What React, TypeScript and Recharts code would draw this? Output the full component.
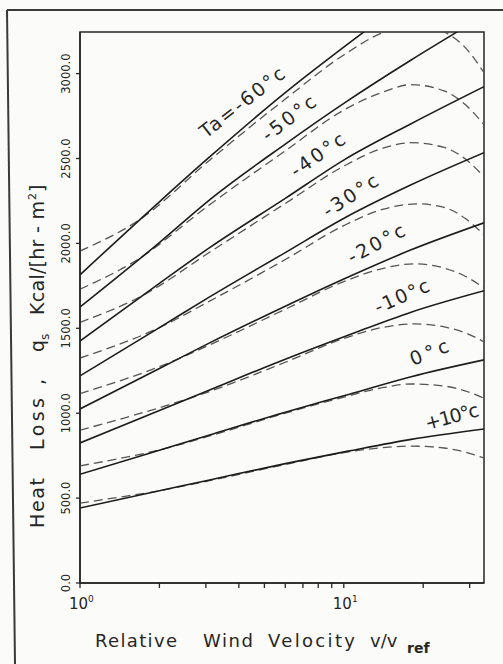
import React from 'react';
import { LineChart, Line, XAxis, YAxis, ReferenceArea } from 'recharts';

// relative wind velocity ticks (log axis) and heat loss ticks
const xTicks = [1, 2, 3, 4, 5, 6, 7, 8, 9, 10, 20, 30];
const yTicks = [0, 500, 1000, 1500, 2000, 2500, 3000];

// solid curves: [v/vref, q]
const solidM60 = [[1, 1815], [2, 2245], [3.1, 2509], [6, 2888], [12, 3249]];
const solidM50 = [[1, 1625], [2, 2005], [3.1, 2257], [6, 2585], [10.1, 2829], [18, 3080], [27, 3247]];
const solidM40 = [[1, 1425], [2, 1765], [3.1, 1975], [6, 2265], [10.1, 2495], [18, 2705], [34, 2923]];
const solidM30 = [[1, 1220], [2, 1504], [3.1, 1685], [6, 1946], [10.1, 2151], [18, 2345], [34, 2534]];
const solidM20 = [[1, 1025], [2, 1263], [3.1, 1414], [6, 1630], [10.5, 1805], [18, 1962], [34, 2121]];
const solidM10 = [[1, 825], [2, 1016], [3.1, 1137], [6, 1318], [10.5, 1462], [18, 1595], [34, 1721]];
const solid0 = [[1, 640], [2, 782], [3.1, 872], [6, 1006], [10.5, 1112], [18, 1215], [34, 1314]];
const solidP10 = [[1, 442], [2, 543], [3.1, 607], [6, 703], [10.5, 778], [18, 846], [34, 907]];

// dashed curves
const dashM60 = [[1, 1955], [1.72, 2150], [3.1, 2490], [6, 2850], [10, 3110], [14, 3240], [18.5, 3285], [24, 3245], [29, 3150], [34, 3005]];
const dashM50 = [[1, 1730], [1.65, 1904], [3.1, 2228], [6, 2545], [10, 2785], [14, 2890], [18, 2935], [24, 2898], [29, 2815], [34, 2699]];
const dashM40 = [[1, 1535], [1.76, 1700], [3.1, 1948], [6, 2235], [10, 2455], [14, 2560], [18, 2593], [24, 2565], [29, 2495], [34, 2392]];
const dashM30 = [[1, 1325], [2, 1504], [3.1, 1660], [6, 1905], [10, 2105], [14, 2200], [19, 2233], [24, 2212], [29, 2145], [34, 2050]];
const dashM20 = [[1, 1115], [2.35, 1318], [3.1, 1402], [6, 1612], [10, 1775], [14, 1852], [18.5, 1880], [24, 1855], [29, 1805], [34, 1738]];
const dashM10 = [[1, 900], [2.6, 1088], [3.1, 1128], [6, 1300], [10, 1440], [14, 1505], [18.5, 1526], [24, 1508], [29, 1472], [34, 1420]];
const dash0 = [[1, 690], [2.15, 796], [3.1, 866], [6, 1000], [10, 1095], [14, 1150], [18, 1172], [24, 1160], [29, 1130], [34, 1088]];
const dashP10 = [[1, 470], [1.5, 512], [1.9, 537], [3.1, 603], [6, 698], [10, 768], [14, 797], [18, 806], [24, 795], [29, 770], [34, 736]];

const solids = [solidM60, solidM50, solidM40, solidM30, solidM20, solidM10, solid0, solidP10];
const dashes = [dashM60, dashM50, dashM40, dashM30, dashM20, dashM10, dash0, dashP10];

// curve labels: text, baseline start (px), angle, length
const curveLabels = [
  { t: 'Ta=-60°c', x: 206, y: 139, a: -38, w: 102 },
  { t: '-50°c', x: 268, y: 142, a: -37, w: 62 },
  { t: '-40°c', x: 296, y: 178, a: -35, w: 62 },
  { t: '-30°c', x: 328, y: 218, a: -33, w: 62 },
  { t: '-20°c', x: 352, y: 264, a: -28, w: 62 },
  { t: '-10°c', x: 378, y: 314, a: -24, w: 58 },
  { t: '0°c', x: 413, y: 366, a: -22, w: 40 },
  { t: '+10°c', x: 427, y: 430, a: -15, w: 55 },
];

const toPts = (a: number[][]) => a.map(([v, q]) => ({ v, q }));

const FONT = '"DejaVu Sans", sans-serif';
const INK = '#262626';

const XTick = (props: any) => {
  const { x, payload } = props;
  if (payload.value !== 1 && payload.value !== 10) return <g />;
  const exp = payload.value === 1 ? '0' : '1';
  return (
    <text x={x - 11} y={609} fontFamily={FONT} fontSize={15} fill={INK}>
      10<tspan dy={-7} fontSize={9}>{exp}</tspan>
    </text>
  );
};

const YTick = (props: any) => {
  const { y, payload } = props;
  return (
    <text
      x={70}
      y={y}
      transform={`rotate(-90, 70, ${y})`}
      textAnchor="middle"
      fontFamily={FONT}
      fontSize={11.5}
      fill={INK}
    >
      {payload.value.toFixed(1)}
    </text>
  );
};

export default function App() {
  return (
    <div style={{ position: 'absolute', left: 0, top: 0, width: 503, height: 664, background: '#fbfbf9', overflow: 'hidden' }}>
      <svg width={503} height={664} style={{ position: 'absolute', left: 0, top: 0 }}>
        <line x1={7} y1={10} x2={503} y2={10} stroke="#3a3a3a" strokeWidth={2} />
        <line x1={7} y1={10} x2={15} y2={664} stroke="#3a3a3a" strokeWidth={2} />
      </svg>
      <div style={{ position: 'absolute', left: 0, top: 0 }}>
        <LineChart width={503} height={664} margin={{ top: 32, right: 19, bottom: 41, left: 0 }}>
          <XAxis
            type="number"
            dataKey="v"
            scale="log"
            domain={[1, 34]}
            allowDataOverflow
            ticks={xTicks}
            interval={0}
            tick={<XTick />}
            tickSize={5}
            height={40}
            axisLine={{ stroke: INK, strokeWidth: 1.5 }}
            tickLine={{ stroke: INK, strokeWidth: 1.3 }}
          />
          <YAxis
            type="number"
            dataKey="q"
            domain={[0, 3245]}
            allowDataOverflow
            ticks={yTicks}
            interval={0}
            tick={<YTick />}
            tickSize={4}
            width={80}
            axisLine={{ stroke: INK, strokeWidth: 1.5 }}
            tickLine={{ stroke: INK, strokeWidth: 1.3 }}
          />
          <ReferenceArea x1={1} x2={34} y1={0} y2={3245} fill="none" stroke={INK} strokeWidth={1.5} fillOpacity={0} />
          {dashes.map((d, i) => (
            <Line
              key={'d' + i}
              data={toPts(d)}
              dataKey="q"
              type="monotone"
              stroke="#555555"
              strokeWidth={1.3}
              strokeDasharray="9 5"
              dot={false}
              isAnimationActive={false}
            />
          ))}
          {solids.map((d, i) => (
            <Line
              key={'s' + i}
              data={toPts(d)}
              dataKey="q"
              type="monotone"
              stroke="#1c1c1c"
              strokeWidth={1.6}
              dot={false}
              isAnimationActive={false}
            />
          ))}
        </LineChart>
      </div>
      <svg width={503} height={664} style={{ position: 'absolute', left: 0, top: 0, pointerEvents: 'none' }}>
        {curveLabels.map((l) => (
          <text
            key={l.t}
            x={l.x}
            y={l.y}
            transform={`rotate(${l.a}, ${l.x}, ${l.y})`}
            fontFamily={FONT}
            fontSize={19}
            fill={INK}
            textLength={l.w}
            lengthAdjust="spacing"
          >
            {l.t}
          </text>
        ))}
        <g transform="translate(44, 528) rotate(-90)" fontFamily={FONT} fontSize={19} fill={INK}>
          <text x={0} y={0} textLength={50} lengthAdjust="spacing">Heat</text>
          <text x={78} y={0} textLength={52} lengthAdjust="spacing">Loss</text>
          <text x={143} y={0}>,</text>
          <text x={176} y={0}>
            q<tspan dy={5} fontSize={12}>s</tspan>
          </text>
          <text x={213} y={0} textLength={114} lengthAdjust="spacing">Kcal/[hr - m</text>
          <text x={328} y={-8} fontSize={11}>2</text>
          <text x={336} y={0}>]</text>
        </g>
        <g fontFamily={FONT} fontSize={18} fill={INK}>
          <text x={95} y={647} textLength={82} lengthAdjust="spacing">Relative</text>
          <text x={203} y={647} textLength={50} lengthAdjust="spacing">Wind</text>
          <text x={268} y={647} textLength={87} lengthAdjust="spacing">Velocity</text>
          <text x={370} y={647}>v/v</text>
          <text x={407} y={653} fontSize={14} fontWeight="bold">ref</text>
        </g>
      </svg>
    </div>
  );
}
